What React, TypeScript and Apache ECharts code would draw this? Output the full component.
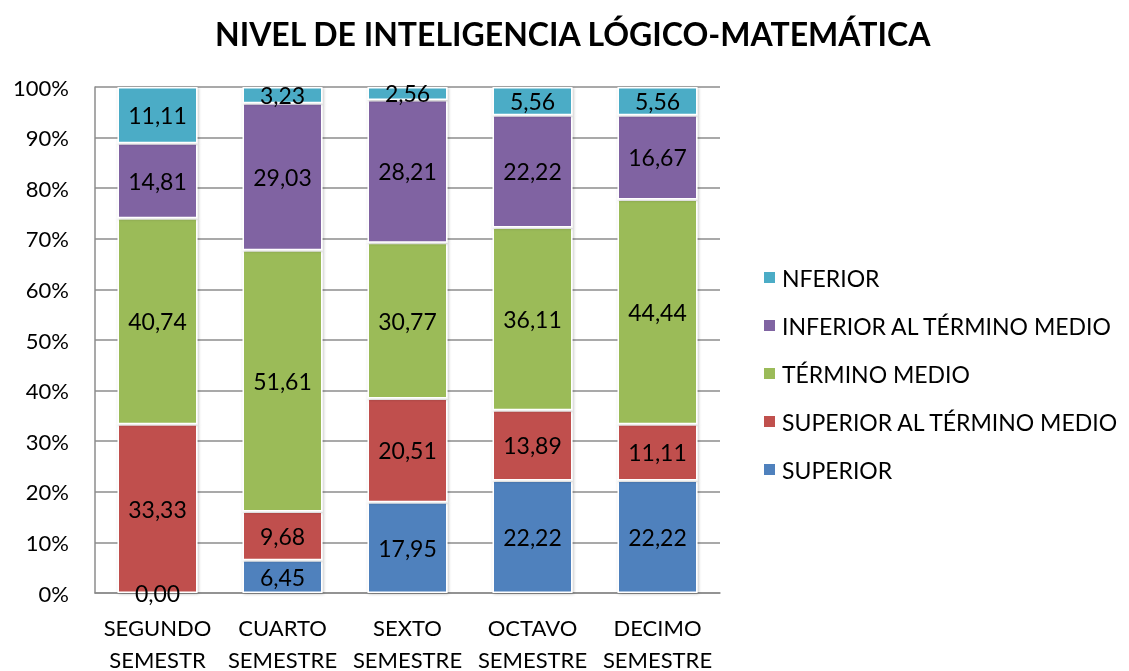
import React, { useEffect, useRef } from "react";
import * as echarts from "echarts";

const title = "NIVEL DE INTELIGENCIA LÓGICO-MATEMÁTICA";
const categories = [
  "SEGUNDO\nSEMESTR",
  "CUARTO\nSEMESTRE",
  "SEXTO\nSEMESTRE",
  "OCTAVO\nSEMESTRE",
  "DECIMO\nSEMESTRE",
];
const seriesNames = [
  "SUPERIOR",
  "SUPERIOR AL TÉRMINO MEDIO",
  "TÉRMINO MEDIO",
  "INFERIOR AL TÉRMINO MEDIO",
  "NFERIOR",
];
const superior = [0.0, 6.45, 17.95, 22.22, 22.22];
const superiorAlTermino = [33.33, 9.68, 20.51, 13.89, 11.11];
const terminoMedio = [40.74, 51.61, 30.77, 36.11, 44.44];
const inferiorAlTermino = [14.81, 29.03, 28.21, 22.22, 16.67];
const nferior = [11.11, 3.23, 2.56, 5.56, 5.56];
const seriesValues = [superior, superiorAlTermino, terminoMedio, inferiorAlTermino, nferior];
const colors = ["#4F81BD", "#C0504D", "#9BBB59", "#8064A2", "#4BACC6"];
const yTicks = { min: 0, max: 100, interval: 10 };

const FONT = "Lato, 'Open Sans', sans-serif";

export default function App() {
  const ref = useRef<HTMLDivElement>(null);
  useEffect(() => {
    if (!ref.current) return;
    const chart = echarts.init(ref.current, undefined, { renderer: "svg" });
    chart.setOption({
      animation: false,
      textStyle: { fontFamily: FONT },
      title: {
        text: title,
        left: 210,
        top: 12,
        textStyle: { fontFamily: FONT, fontSize: 32, fontWeight: "bold", color: "#000" },
      },
      legend: {
        orient: "vertical",
        left: 757,
        top: 261,
        itemWidth: 13,
        itemHeight: 13,
        itemGap: 25,
        icon: "rect",
        data: [...seriesNames].reverse(),
        textStyle: { fontFamily: FONT, fontSize: 23, color: "#000", lineHeight: 23, padding: [0, 0, 0, 1] },
      },
      grid: {
        left: 95,
        width: 625,
        top: 87,
        height: 506,
        containLabel: false,
        outerBoundsMode: "none",
      },
      xAxis: {
        type: "category",
        data: categories,
        axisLine: { show: true, lineStyle: { color: "#8c8c8c", width: 1.5 } },
        axisTick: { show: false },
        axisLabel: {
          color: "#000",
          fontFamily: FONT,
          fontSize: 22,
          lineHeight: 32,
          margin: 18,
          interval: 0,
        },
      },
      yAxis: {
        type: "value",
        min: yTicks.min,
        max: yTicks.max,
        interval: yTicks.interval,
        axisLine: { show: true, lineStyle: { color: "#8c8c8c", width: 1.5 } },
        axisTick: { show: false },
        splitLine: { show: true, lineStyle: { color: "#8c8c8c", width: 1.5 } },
        axisLabel: {
          color: "#000",
          fontFamily: FONT,
          fontSize: 22,
          margin: 26,
          formatter: "{value}%",
        },
      },
      series: seriesNames.map((name, i) => ({
        name,
        type: "bar",
        stack: "total",
        barWidth: 80,
        data: seriesValues[i],
        itemStyle: {
          color: colors[i],
          borderColor: "#ffffff",
          borderWidth: 1.5,
          shadowColor: "rgba(0,0,0,0.25)",
          shadowBlur: 3,
          shadowOffsetX: 1,
          shadowOffsetY: 1,
        },
        label: {
          show: true,
          position: "inside",
          color: "#000",
          fontFamily: FONT,
          fontSize: 23,
          formatter: (p: any) => Number(p.value).toFixed(2).replace(".", ","),
        },
      })),
    });
    return () => chart.dispose();
  }, []);
  return (
    <div
      ref={ref}
      style={{ position: "fixed", left: 0, top: 0, width: 1129, height: 671 }}
    />
  );
}
